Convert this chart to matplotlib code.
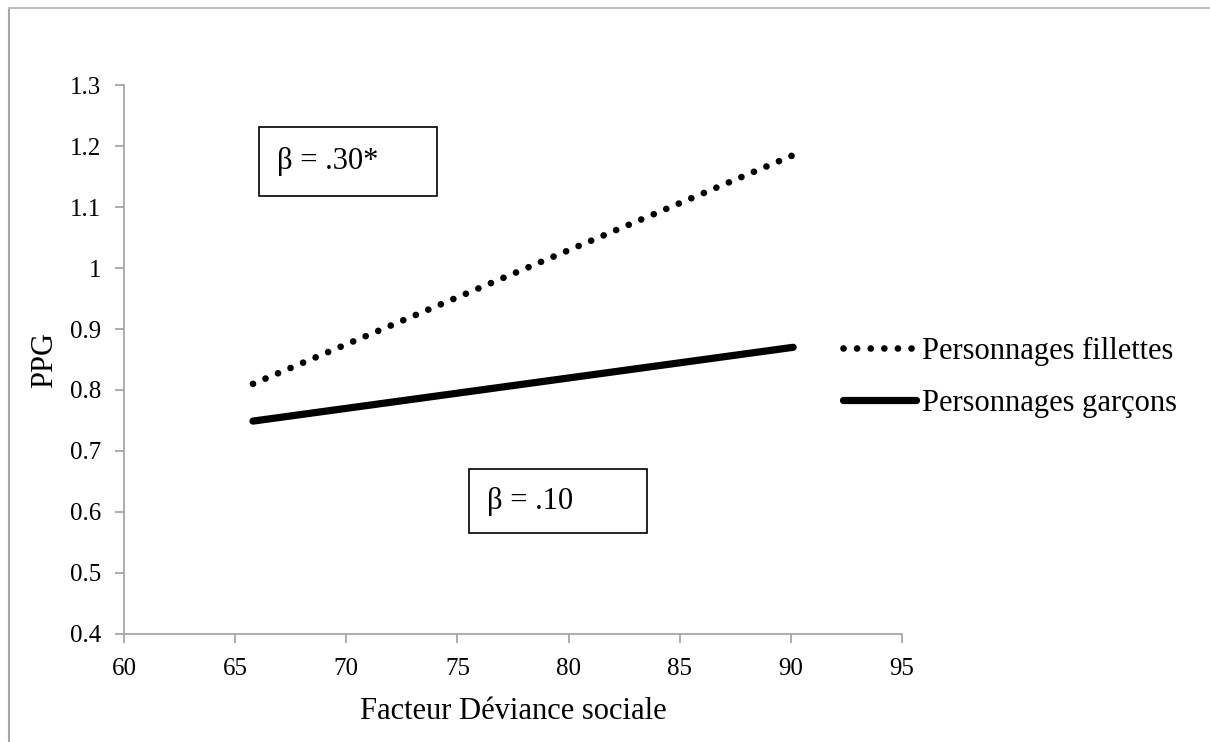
import matplotlib.pyplot as plt
from matplotlib.patches import Rectangle
from matplotlib.lines import Line2D

plt.rcParams['font.family'] = ['Liberation Serif', 'DejaVu Serif']

# valeurs simples (bas / haut du facteur)
deviance = [65.8, 90.1]
ppg_fillettes = [0.81, 1.185]
ppg_garcons = [0.749, 0.870]
labels = ['Personnages fillettes', 'Personnages garçons']
beta_txt = ['β = .30*', 'β = .10']
xticks = [60, 65, 70, 75, 80, 85, 90, 95]
yticks = [0.4, 0.5, 0.6, 0.7, 0.8, 0.9, 1.0, 1.1, 1.2, 1.3]
ytick_labels = ['0.4', '0.5', '0.6', '0.7', '0.8', '0.9', '1', '1.1', '1.2', '1.3']

grey = '#a6a6a6'
fs = 18
fs_big = 22

fig = plt.figure(figsize=(12.1, 7.42), dpi=100)
ax = fig.add_axes([0.1025, 0.1456, 0.6430, 0.7398])

ax.plot(deviance, ppg_fillettes, color='black', lw=4.8,
        linestyle=(0, (0.01, 2.03)), dash_capstyle='round', label=labels[0])
ax.plot(deviance, ppg_garcons, color='black', lw=5.2,
        solid_capstyle='round', label=labels[1])

ax.set_xlim(60, 95)
ax.set_ylim(0.4, 1.3)
ax.set_xticks(xticks)
ax.set_yticks(yticks)
ax.set_yticklabels(ytick_labels)
ax.tick_params(colors=grey, labelcolor='black', labelsize=fs, length=6.5, width=1.3)
ax.tick_params(axis='x', pad=11)
ax.tick_params(axis='y', pad=10)
for s in ['top', 'right']:
    ax.spines[s].set_visible(False)
for s in ['left', 'bottom']:
    ax.spines[s].set_color(grey)
    ax.spines[s].set_linewidth(1.3)

ax.set_xlabel('Facteur Déviance sociale', fontsize=fs_big, labelpad=12)
ax.set_ylabel('PPG', fontsize=fs_big, labelpad=8)

# encadrés des coefficients
ax.add_patch(Rectangle((66.07, 1.118), 8.01, 0.113, fill=False, ec='black',
                       lw=1.2, clip_on=False))
ax.text(66.9, 1.1745, beta_txt[0], fontsize=fs_big, va='center', ha='left')
ax.add_patch(Rectangle((75.52, 0.5656), 8.01, 0.1049, fill=False, ec='black',
                       lw=1.2, clip_on=False))
ax.text(76.35, 0.618, beta_txt[1], fontsize=fs_big, va='center', ha='left')

ax.legend(loc='center left', bbox_to_anchor=(843 / 1210, 1 - 377.5 / 742),
          bbox_transform=fig.transFigure, frameon=False, fontsize=fs_big,
          handlelength=2.4, handletextpad=0.2, borderpad=0, borderaxespad=0,
          labelspacing=0.75)

# cadre gris autour du graphique
fig.add_artist(Line2D([8.5 / 1210, 8.5 / 1210], [0, 1 - 7.5 / 742],
                      transform=fig.transFigure, color=grey, lw=1.5))
fig.add_artist(Line2D([8.5 / 1210, 1], [1 - 7.5 / 742, 1 - 7.5 / 742],
                      transform=fig.transFigure, color='#bfbfbf', lw=1.5))

fig.savefig('out.png', dpi=100)
